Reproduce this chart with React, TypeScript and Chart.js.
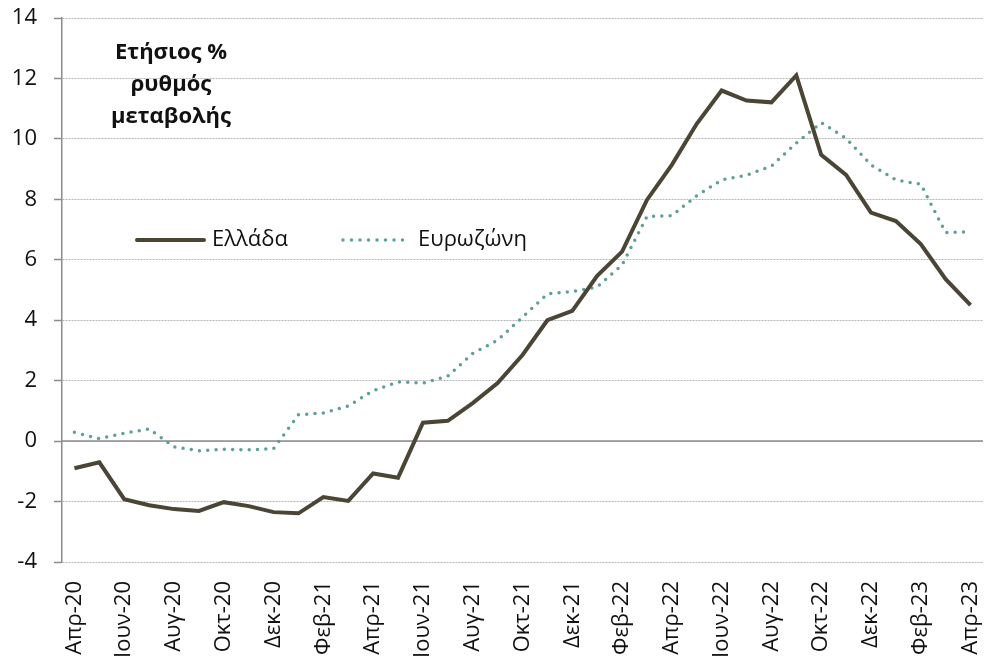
import React, { useEffect, useRef } from "react";
import { Chart, registerables } from "chart.js";

Chart.register(...registerables);

const months = [
  "Απρ-20", "Μαϊ-20", "Ιουν-20", "Ιουλ-20", "Αυγ-20", "Σεπ-20", "Οκτ-20", "Νοε-20", "Δεκ-20",
  "Ιαν-21", "Φεβ-21", "Μαρ-21", "Απρ-21", "Μαϊ-21", "Ιουν-21", "Ιουλ-21", "Αυγ-21", "Σεπ-21",
  "Οκτ-21", "Νοε-21", "Δεκ-21", "Ιαν-22", "Φεβ-22", "Μαρ-22", "Απρ-22", "Μαϊ-22", "Ιουν-22",
  "Ιουλ-22", "Αυγ-22", "Σεπ-22", "Οκτ-22", "Νοε-22", "Δεκ-22", "Ιαν-23", "Φεβ-23", "Μαρ-23",
  "Απρ-23",
];

const greece = [
  -0.9, -0.7, -1.92, -2.12, -2.25, -2.31, -2.02, -2.15, -2.35, -2.39, -1.85, -1.98,
  -1.07, -1.21, 0.61, 0.67, 1.26, 1.92, 2.85, 4.0, 4.31, 5.47, 6.27, 7.98,
  9.14, 10.5, 11.6, 11.27, 11.21, 12.1, 9.47, 8.81, 7.56, 7.28, 6.52, 5.36, 4.5,
];

const eurozone = [
  0.29, 0.08, 0.26, 0.4, -0.19, -0.32, -0.27, -0.29, -0.25, 0.87, 0.93, 1.16,
  1.67, 1.96, 1.92, 2.15, 2.9, 3.34, 4.1, 4.87, 4.95, 5.1, 5.83, 7.43,
  7.46, 8.12, 8.64, 8.8, 9.1, 9.86, 10.54, 10.02, 9.14, 8.64, 8.5, 6.9, 6.93,
];

const seriesNames = ["Ελλάδα", "Ευρωζώνη"];
const titleLines = ["Ετήσιος %", "ρυθμός", "μεταβολής"];
const yTicks = { min: -4, max: 14, step: 2 };

const FONT = "'Open Sans', 'Noto Sans', sans-serif";
const GREECE_COLOR = "#4b4536";
const EURO_COLOR = "#5f9e9a";
const AXIS_COLOR = "#8c8c8c";
const GRID_COLOR = "#b5b5b5";

const overlayPlugin = {
  id: "overlay",
  beforeDatasetsDraw(chart: any) {
    const { ctx, chartArea, scales } = chart;
    const y0 = scales.y.getPixelForValue(0);
    ctx.save();
    ctx.strokeStyle = AXIS_COLOR;
    ctx.lineWidth = 1.5;
    ctx.beginPath();
    ctx.moveTo(chartArea.left, y0);
    ctx.lineTo(chartArea.right, y0);
    ctx.stroke();
    ctx.restore();
  },
  afterDraw(chart: any) {
    const { ctx } = chart;
    ctx.save();
    // title
    ctx.fillStyle = "#111";
    ctx.font = `bold 22px ${FONT}`;
    ctx.textAlign = "center";
    ctx.textBaseline = "alphabetic";
    titleLines.forEach((t, i) => ctx.fillText(t, 171, 59 + i * 32));

    // legend
    const ly = 240;
    ctx.lineCap = "round";
    ctx.strokeStyle = GREECE_COLOR;
    ctx.lineWidth = 4;
    ctx.beginPath();
    ctx.moveTo(137, ly);
    ctx.lineTo(204, ly);
    ctx.stroke();

    ctx.strokeStyle = EURO_COLOR;
    ctx.lineWidth = 3.5;
    ctx.setLineDash([0, 8.5]);
    ctx.beginPath();
    ctx.moveTo(343, ly);
    ctx.lineTo(411, ly);
    ctx.stroke();
    ctx.setLineDash([]);

    ctx.fillStyle = "#111";
    ctx.font = `22px ${FONT}`;
    ctx.textAlign = "left";
    ctx.textBaseline = "middle";
    ctx.fillText(seriesNames[0], 212, ly);
    ctx.fillText(seriesNames[1], 418, ly);
    ctx.restore();
  },
};

function ChartView() {
  const ref = useRef<HTMLCanvasElement | null>(null);
  useEffect(() => {
    if (!ref.current) return;
    const chart = new Chart(ref.current, {
      type: "line",
      data: {
        labels: months,
        datasets: [
          {
            label: seriesNames[0],
            data: greece,
            borderColor: GREECE_COLOR,
            borderWidth: 4,
            pointRadius: 0,
            tension: 0,
            fill: false,
          },
          {
            label: seriesNames[1],
            data: eurozone,
            borderColor: EURO_COLOR,
            borderWidth: 3.5,
            borderDash: [0, 8.3],
            borderCapStyle: "round",
            pointRadius: 0,
            tension: 0,
            fill: false,
          },
        ],
      },
      options: {
        responsive: false,
        animation: false,
        devicePixelRatio: 1,
        layout: { padding: { top: 18, right: 1, left: 0, bottom: 0 } },
        plugins: {
          legend: { display: false },
          tooltip: { enabled: false },
          title: { display: false },
        },
        scales: {
          x: {
            type: "category",
            offset: true,
            grid: { display: false, drawTicks: false },
            border: { display: false },
            ticks: {
              autoSkip: false,
              minRotation: 90,
              maxRotation: 90,
              padding: 19,
              color: "#111",
              font: { family: FONT, size: 22 },
              callback: (_v: any, i: number) => (i % 2 === 0 ? months[i] : ""),
            },
            afterFit: (s: any) => {
              s.height = 98;
              s.paddingLeft = 0;
              s.paddingRight = 0;
            },
          },
          y: {
            min: yTicks.min,
            max: yTicks.max,
            grid: {
              color: GRID_COLOR,
              lineWidth: 1,
              drawTicks: true,
              tickLength: 8,
              tickColor: AXIS_COLOR,
              tickWidth: 1.5,
              tickBorderDash: [],
            },
            border: { display: true, color: AXIS_COLOR, width: 1.5, dash: [2, 1] },
            ticks: {
              stepSize: yTicks.step,
              padding: 17,
              color: "#111",
              font: { family: FONT, size: 22 },
            },
            afterFit: (s: any) => {
              s.width = 62;
              s.paddingTop = 0;
              s.paddingBottom = 0;
            },
          },
        },
      },
      plugins: [overlayPlugin],
    } as any);
    return () => chart.destroy();
  }, []);
  return <canvas ref={ref} width={984} height={660} style={{ display: "block" }} />;
}

export default function App() {
  return (
    <div
      style={{
        position: "absolute",
        left: 0,
        top: 0,
        width: 984,
        height: 660,
        background: "#fff",
      }}
    >
      <ChartView />
    </div>
  );
}
